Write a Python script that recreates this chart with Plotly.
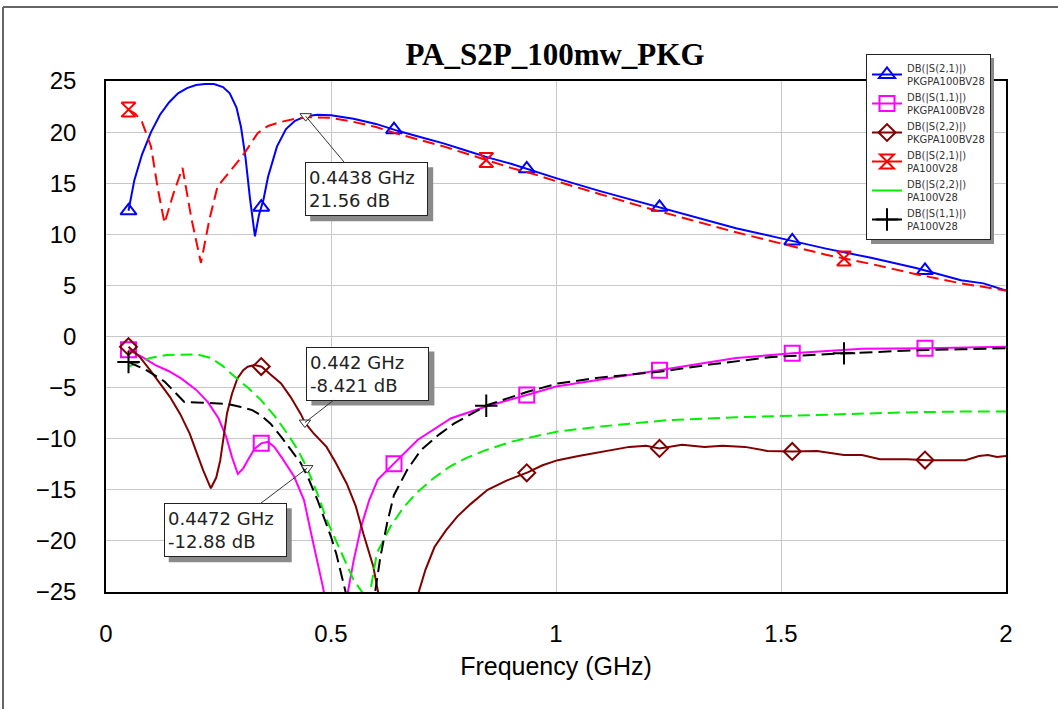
import numpy as np
import plotly.graph_objects as go

# ---------------- data ----------------
# DB(|S(2,1)|) PKGPA100BV28 (blue)
f_s21_pkg = [0.05, 0.063, 0.08, 0.1, 0.12, 0.14, 0.16, 0.18, 0.2, 0.22, 0.24, 0.26, 0.275, 0.29, 0.30,
             0.31, 0.32, 0.331, 0.34, 0.35, 0.36, 0.38, 0.40, 0.42, 0.4438, 0.47, 0.50, 0.55, 0.60, 0.65,
             0.70, 0.75, 0.80, 0.85, 0.90, 0.95, 1.0, 1.1, 1.2, 1.3, 1.4, 1.5, 1.6, 1.7, 1.8, 1.9, 1.95, 2.0]
db_s21_pkg = [12.3, 15.3, 17.8, 20.0, 21.7, 22.9, 23.8, 24.3, 24.6, 24.7, 24.7, 24.4, 23.8, 22.4, 20.5,
              17.5, 13.5, 9.8, 11.9, 13.4, 15.6, 18.6, 20.3, 21.1, 21.56, 21.7, 21.65, 21.3, 20.8, 20.1,
              19.5, 18.9, 18.2, 17.5, 16.9, 16.2, 15.5, 14.2, 13.0, 11.8, 10.6, 9.6, 8.6, 7.7, 6.7, 5.5, 5.2, 4.5]

# DB(|S(1,1)|) PKGPA100BV28 (magenta)
f_s11_pkg = [0.05, 0.08, 0.11, 0.14, 0.167, 0.2, 0.226, 0.25, 0.267, 0.28, 0.293, 0.305, 0.315, 0.33,
             0.345, 0.36, 0.374, 0.39, 0.418, 0.44, 0.456, 0.47, 0.482, 0.495, 0.51, 0.525, 0.537, 0.55,
             0.567, 0.585, 0.604, 0.641, 0.693, 0.767, 0.848, 0.937, 1.0, 1.1, 1.23, 1.3, 1.4, 1.525,
             1.6, 1.68, 1.825, 1.9, 2.0]
db_s11_pkg = [-1.3, -2.0, -2.8, -3.4, -4.1, -5.2, -6.4, -8.0, -9.8, -11.8, -13.45, -12.9, -12.1, -11.0,
              -10.45, -10.3, -10.8, -11.8, -13.7, -16.0, -19.3, -22.0, -24.5, -27.5, -30.0, -28.0, -25.1, -22.0,
              -18.6, -16.0, -14.0, -12.4, -10.1, -8.0, -6.8, -5.7, -4.9, -4.2, -3.3, -2.8, -2.1, -1.65,
              -1.4, -1.2, -1.15, -1.1, -1.0]

# DB(|S(2,2)|) PKGPA100BV28 (dark red)
f_s22_pkg = [0.05, 0.075, 0.098, 0.12, 0.142, 0.165, 0.186, 0.2, 0.216, 0.233, 0.245, 0.254, 0.262, 0.269,
             0.28, 0.292, 0.305, 0.315, 0.33, 0.346, 0.365, 0.389, 0.41, 0.433, 0.442, 0.46, 0.49, 0.51,
             0.535, 0.555, 0.572, 0.594, 0.605, 0.62, 0.64, 0.66, 0.683, 0.695, 0.71, 0.73, 0.755, 0.781,
             0.81, 0.848, 0.89, 0.937, 0.97, 1.004, 1.05, 1.1, 1.163, 1.2, 1.23, 1.28, 1.33, 1.37, 1.42,
             1.47, 1.525, 1.58, 1.64, 1.68, 1.72, 1.78, 1.825, 1.87, 1.91, 1.94, 1.96, 1.98, 2.0]
db_s22_pkg = [-1.0, -2.0, -3.3, -4.6, -5.9, -7.6, -9.5, -11.2, -13.1, -14.85, -13.8, -12.1, -9.7, -7.5,
              -5.6, -4.1, -3.3, -2.95, -2.8, -2.95, -3.7, -4.6, -5.9, -7.6, -8.421, -9.4, -10.8, -12.3,
              -14.4, -16.6, -19.3, -22.5, -25.1, -28.0, -31.0, -30.0, -27.0, -25.0, -22.8, -20.6, -19.0, -17.6,
              -16.4, -15.0, -14.1, -13.3, -12.6, -12.1, -11.7, -11.3, -10.8, -10.7, -10.95, -10.6, -10.8, -10.7,
              -10.8, -11.2, -11.25, -11.2, -11.6, -11.6, -12.0, -12.0, -12.1, -12.1, -12.1, -11.7, -11.6, -11.8, -11.7]

# DB(|S(2,1)|) PA100V28 (red dashed)
f_s21_pa = [0.05, 0.065, 0.08, 0.1, 0.115, 0.13, 0.15, 0.17, 0.19, 0.211, 0.23, 0.248, 0.28, 0.307, 0.337,
            0.36, 0.389, 0.42, 0.45, 0.5, 0.55, 0.6, 0.65, 0.7, 0.75, 0.8, 0.85, 0.9, 0.95, 1.0, 1.1, 1.2,
            1.3, 1.4, 1.5, 1.6, 1.7, 1.8, 1.9, 2.0]
db_s21_pa = [22.2, 21.8, 21.0, 18.6, 14.5, 11.1, 14.0, 16.5, 11.5, 7.2, 11.5, 14.7, 16.4, 17.9, 19.9,
             20.6, 21.0, 21.3, 21.45, 21.4, 21.0, 20.5, 19.8, 19.2, 18.6, 17.9, 17.2, 16.5, 15.9, 15.2, 13.9, 12.6,
             11.4, 10.2, 9.1, 8.0, 7.1, 6.1, 5.2, 4.5]

# DB(|S(2,2)|) PA100V28 (green dashed)
f_s22_pa = [0.05, 0.07, 0.098, 0.135, 0.17, 0.202, 0.233, 0.26, 0.285, 0.315, 0.344, 0.375, 0.403, 0.425,
            0.447, 0.47, 0.49, 0.512, 0.534, 0.55, 0.569, 0.578, 0.587, 0.602, 0.632, 0.66, 0.69, 0.73,
            0.765, 0.8, 0.845, 0.9, 0.95, 1.004, 1.1, 1.244, 1.4, 1.52, 1.65, 1.8, 1.9, 2.0]
db_s22_pa = [-2.95, -2.6, -2.1, -1.8, -1.75, -1.75, -2.1, -2.9, -3.9, -5.0, -6.2, -7.8, -9.5, -11.0,
             -12.88, -15.4, -17.9, -20.0, -22.2, -23.8, -25.0, -26.0, -25.0, -21.2, -18.6, -16.8, -15.3, -13.8,
             -12.7, -11.9, -11.1, -10.3, -9.8, -9.3, -8.8, -8.2, -7.9, -7.75, -7.55, -7.4, -7.35, -7.35]

# DB(|S(1,1)|) PA100V28 (black dashed)
f_s11_pa = [0.05, 0.09, 0.13, 0.155, 0.174, 0.2, 0.233, 0.27, 0.3, 0.325, 0.344, 0.365, 0.389, 0.41,
            0.433, 0.45, 0.47, 0.485, 0.5, 0.512, 0.522, 0.533, 0.545, 0.56, 0.575, 0.598, 0.61, 0.625,
            0.64, 0.67, 0.7, 0.74, 0.774, 0.848, 0.937, 1.004, 1.1, 1.23, 1.35, 1.48, 1.64, 1.8, 1.9, 2.0]
db_s11_pa = [-2.5, -3.3, -4.4, -5.5, -6.4, -6.45, -6.5, -6.6, -6.9, -7.2, -7.7, -8.5, -9.8, -11.0,
             -12.4, -13.9, -16.0, -17.8, -19.6, -21.3, -23.2, -25.1, -28.0, -31.0, -29.0, -25.0, -21.5, -18.2,
             -15.5, -13.0, -11.1, -9.6, -8.5, -6.7, -5.4, -4.6, -4.0, -3.45, -2.7, -2.0, -1.65, -1.35, -1.25, -1.15]

# marker frequencies
mk_pkg = [0.05, 0.345, 0.64, 0.935, 1.23, 1.525, 1.82]
mk_pa = [0.05, 0.845, 1.64]

# marker readouts
read_f = [0.4438, 0.442, 0.4472]
read_db = [21.56, -8.421, -12.88]
read_txt = ["0.4438 GHz<br>21.56 dB", "0.442 GHz<br>-8.421 dB", "0.4472 GHz<br>-12.88 dB"]

x_ticks = [0, 0.5, 1, 1.5, 2]
x_tick_text = ["0", "0.5", "1", "1.5", "2"]
y_ticks = [25, 20, 15, 10, 5, 0, -5, -10, -15, -20, -25]

# ---------------- figure ----------------
series = [
    ("DB(|S(2,1)|)<br>PKGPA100BV28", f_s21_pkg, db_s21_pkg, "#0000FF", "solid", "triangle-up-open", 14, mk_pkg),
    ("DB(|S(1,1)|)<br>PKGPA100BV28", f_s11_pkg, db_s11_pkg, "#FF00FF", "solid", "square-open", 15, mk_pkg),
    ("DB(|S(2,2)|)<br>PKGPA100BV28", f_s22_pkg, db_s22_pkg, "#800000", "solid", "diamond-open", 13, mk_pkg),
    ("DB(|S(2,1)|)<br>PA100V28", f_s21_pa, db_s21_pa, "#FF0000", "12px,6px", "hourglass-open", 14, mk_pa),
    ("DB(|S(2,2)|)<br>PA100V28", f_s22_pa, db_s22_pa, "#00F000", "12px,6px", None, 0, []),
    ("DB(|S(1,1)|)<br>PA100V28", f_s11_pa, db_s11_pa, "#000000", "13px,6px", "cross-thin-open", 16, mk_pa),
]

fig = go.Figure()
for i, (name, fx, fy, col, dash, sym, size, mk) in enumerate(series):
    g = f"g{i}"
    fig.add_trace(go.Scatter(x=fx, y=fy, mode="lines", line=dict(color=col, width=2, dash=dash),
                             showlegend=False, legendgroup=g, hoverinfo="skip"))
    if sym and mk:
        my = np.interp(mk, fx, fy)
        fig.add_trace(go.Scatter(x=mk, y=my, mode="markers",
                                 marker=dict(symbol=sym, size=size, color=col, line=dict(color=col, width=2)),
                                 showlegend=False, legendgroup=g, hoverinfo="skip"))
    # legend entry
    if sym:
        fig.add_trace(go.Scatter(x=[None], y=[None], mode="lines+markers", name=name, legendgroup=g,
                                 line=dict(color=col, width=2),
                                 marker=dict(symbol=sym, size=size, color=col, line=dict(color=col, width=2))))
    else:
        fig.add_trace(go.Scatter(x=[None], y=[None], mode="lines", name=name, legendgroup=g,
                                 line=dict(color=col, width=2)))

# readout markers
fig.add_trace(go.Scatter(x=read_f, y=read_db, mode="markers", showlegend=False, hoverinfo="skip",
                         marker=dict(symbol="triangle-down", size=10, color="white",
                                     line=dict(color="#333333", width=1))))

W, H = 1058, 709
L, R, T, B = 106, 52, 81, 117
pw, ph = W - L - R, H - T - B

def px(xp):
    return (xp - L) / pw

def py(yp):
    return (H - B - yp) / ph

# readout boxes (box centre offset from the marked point, in pixels)
BW, BH, SH = 123, 54, 5
offsets = [(61, 73), (63, -49), (-82, 62)]
shapes = []
for (fx, fy, txt), (ax, ay) in zip(zip(read_f, read_db, read_txt), offsets):
    shapes.append(dict(type="rect", xref="x", yref="y", xsizemode="pixel", ysizemode="pixel",
                       xanchor=fx, yanchor=fy,
                       x0=ax - BW / 2 + SH, x1=ax + BW / 2 + SH,
                       y0=-(ay + BH / 2 + SH), y1=-(ay - BH / 2 + SH),
                       fillcolor="#8a8a8a", line=dict(width=0), layer="above"))
    fig.add_annotation(x=fx, y=fy, text=txt, showarrow=True, ax=ax, ay=ay, arrowhead=0, arrowwidth=1,
                       arrowcolor="#333333", width=BW - 8, height=BH - 8, align="left", bgcolor="white",
                       bordercolor="#222222", borderwidth=1, borderpad=3,
                       font=dict(family="DejaVu Sans", size=18, color="#222222"))

shapes += [
    # outer frame (left and top edges)
    dict(type="line", xref="paper", yref="paper", x0=px(3), x1=px(3), y0=py(740), y1=py(7),
         line=dict(color="#666666", width=2)),
    dict(type="line", xref="paper", yref="paper", x0=px(3), x1=px(1080), y0=py(7), y1=py(7),
         line=dict(color="#666666", width=2)),
    # legend shadow
    dict(type="rect", xref="paper", yref="paper", x0=px(871), x1=px(994), y0=py(244), y1=py(58),
         fillcolor="#8a8a8a", line=dict(width=0), layer="above"),
]

fig.update_layout(
    width=W, height=H,
    margin=dict(l=L, r=R, t=T, b=B),
    paper_bgcolor="white", plot_bgcolor="white",
    title=dict(text="<b>PA_S2P_100mw_PKG</b>", x=px(555), xref="paper", xanchor="center",
               y=1 - 54 / H, yanchor="middle", yref="container",
               font=dict(family="Liberation Serif, Times New Roman, serif", size=31, color="black")),
    xaxis=dict(range=[0, 2], tickvals=x_ticks, ticktext=x_tick_text, showgrid=True, gridcolor="#C8C8C8",
               gridwidth=1, zeroline=False, showline=True, linecolor="black", linewidth=1.5, mirror=True,
               ticks="", ticklabelstandoff=19,
               tickfont=dict(family="Liberation Sans, Arial", size=24, color="black"),
               title=dict(text="Frequency (GHz)", standoff=12,
                          font=dict(family="Liberation Sans, Arial", size=25, color="black"))),
    yaxis=dict(range=[-25, 25], tickvals=y_ticks, showgrid=True, gridcolor="#C8C8C8", gridwidth=1,
               zeroline=False, showline=True, linecolor="black", linewidth=1.5, mirror=True,
               ticks="", ticklabelstandoff=23,
               tickfont=dict(family="Liberation Sans, Arial", size=24, color="black")),
    legend=dict(x=px(866), y=py(54), xanchor="left", yanchor="top", bgcolor="white",
                bordercolor="#222222", borderwidth=1, itemwidth=30, tracegroupgap=0,
                font=dict(family="DejaVu Sans", size=10, color="#333333")),
    shapes=shapes,
    showlegend=True,
)

fig.write_html("out.html", config={"displayModeBar": False},
               post_script="document.body.style.margin='0px';")
